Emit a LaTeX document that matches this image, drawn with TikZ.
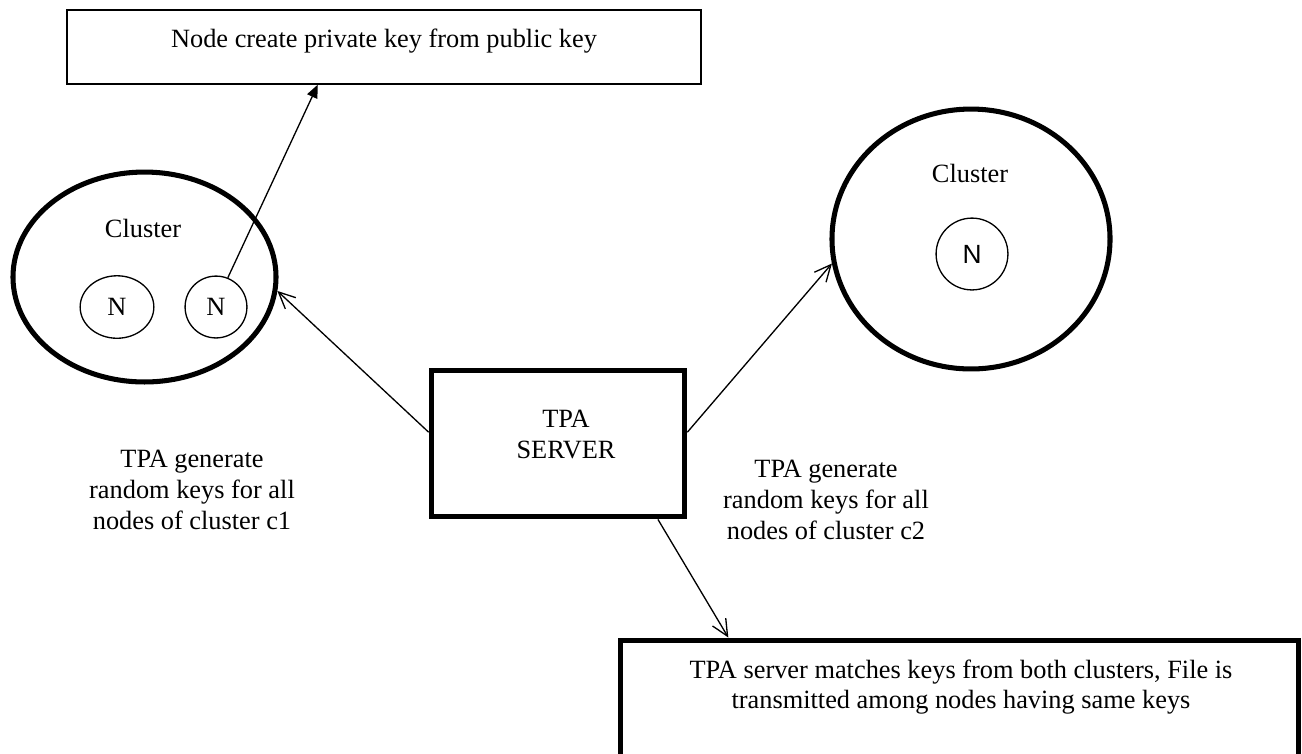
\documentclass[tikz,border=0pt]{standalone}
\usepackage{fontspec}
\setmainfont{Liberation Serif}
\newfontfamily\arialfont{Liberation Sans}
\usetikzlibrary{arrows.meta,shapes.geometric}

\tikzset{
  heavy/.style={draw, line width=2.3pt},
  light/.style={draw, line width=0.6pt},
  barb/.style={-{Straight Barb[length=7.5pt,width=7pt]}, line width=0.6pt},
  pointer/.style={-{Triangle[length=6pt,width=5pt]}, line width=0.6pt},
  txt/.style={inner sep=0pt, align=center}
}

\begin{document}
\begin{tikzpicture}[x=0.016cm, y=-0.016cm,
    every node/.style={font=\fontsize{12}{14}\selectfont}]

  \useasboundingbox (0,0) rectangle (1302,753);

  % key box on top
  \node (pkbox) [light, line width=0.7pt, minimum width=10.14cm, minimum height=1.18cm,
        text height=8pt, text depth=8pt] at (384,47) {Node create private key from public key};

  % first cluster
  \node (c1) [heavy, ellipse, minimum width=4.21cm, minimum height=3.36cm] at (144.5,277) {};
  \node (c1lbl) at (143,228) {Cluster};
  \node (n1) [light, ellipse, minimum width=1.18cm, minimum height=1cm, inner sep=0pt] at (117,307) {N};
  \node (n2) [light, circle, minimum size=0.99cm, inner sep=0pt] at (216,307) {N};

  % second cluster
  \node (c2) [heavy, ellipse, minimum width=4.45cm, minimum height=4.16cm] at (971,239) {};
  \node (c2lbl) at (970,173) {Cluster};
  \node (n3) [light, circle, minimum size=1.15cm, inner sep=0pt,
        font=\arialfont\fontsize{12}{14}\selectfont] at (972,254) {N};

  % server
  \node (srv) [heavy, minimum width=4.06cm, minimum height=2.35cm] at (558,443.5) {};
  \node (srvtxt) [txt, anchor=north] at (566,410) {TPA\\SERVER};

  % result box, runs off the bottom edge
  \node (match) [heavy, minimum width=10.86cm, minimum height=2.08cm] at (959.5,705) {};
  \node (matchtxt) [txt, anchor=north] at (961,659)
        {TPA server matches keys from both clusters, File is\\transmitted among nodes having same keys};

  % captions
  \node (cap1) [txt, anchor=north] at (192,450) {TPA generate\\random keys for all\\nodes of cluster c1};
  \node (cap2) [txt, anchor=north] at (826,460) {TPA generate\\random keys for all\\nodes of cluster c2};

  % connectors
  \draw[pointer] (n2.68) -- ([xshift=-1.06cm]pkbox.south);
  \draw[barb] (srv.175) -- (c1.-6);
  \draw[barb] (srv.5) -- (c2.190);
  \draw[barb] ([xshift=1.6cm]srv.south) -- ([xshift=-3.7cm]match.north);

\end{tikzpicture}
\end{document}
